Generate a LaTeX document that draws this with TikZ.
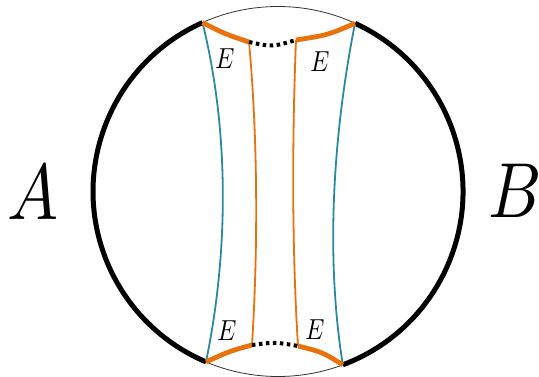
\documentclass[tikz,border=0pt]{standalone}
\usepackage{graphicx}
\begin{document}
\begin{tikzpicture}[x=1pt,y=1pt,
  thinarc/.style={line width=0.8pt, black!80},
  boundary/.style={line width=5pt, black},
  orangethick/.style={line width=4.8pt, orng},
  orangethin/.style={line width=1.8pt, orng},
  bluethin/.style={line width=1.8pt, tealc},
  dotline/.style={line width=4pt, black, dash pattern=on 3.5pt off 3.5pt},
  lab/.style={font=\normalsize, anchor=base, inner sep=0pt},
  biglab/.style={font=\normalsize, anchor=base, inner sep=0pt}]
\definecolor{orng}{RGB}{232,114,12}
\definecolor{tealc}{RGB}{45,136,158}
\useasboundingbox (0,0) rectangle (539,376);
\coordinate (C) at (278,184.5);
\coordinate (TL) at (202.5,353.4);
\coordinate (TR) at (355,352.7);
\coordinate (BL) at (206,14.1);
\coordinate (BR) at (342.8,11.2);
\coordinate (L1) at (249,334);
\coordinate (R1) at (296,336);
\coordinate (L2) at (252,31);
\coordinate (R2) at (298,30);
% thin circle
\draw[thinarc] (C) circle[radius=185];
% blue curves
\draw[bluethin] (TL) .. controls (229,246) and (229,126) .. (BL);
\draw[bluethin] (TR) .. controls (332,236) and (326,116) .. (BR);
% orange verticals
\draw[orangethin] (L1) .. controls (258,236) and (258,126) .. (L2);
\draw[orangethin] (R1) .. controls (292,236) and (292,126) .. (R2);
% black boundary arcs
\draw[boundary] (TL) arc[start angle=114.1, end angle=247.1, radius=185];
\draw[boundary] (BR) arc[start angle=-69.5, end angle=65.4, radius=185];
% top orange and dotted
\draw[orangethick] (TL) .. controls (225,342) .. (L1);
\draw[dotline] (L1) .. controls (272,329) .. (R1);
\draw[orangethick] (R1) .. controls (328,341) .. (TR);
% bottom orange and dotted
\draw[orangethick] (BL) .. controls (230,25) .. (L2);
\draw[dotline] (L2) .. controls (275,34) .. (R2);
\draw[orangethick] (R2) .. controls (322,24) .. (BR);
% labels
\node[lab] (e1) at (225,308) {\scalebox{2.4}[2.9]{$E$}};
\node[lab] (e2) at (320,304) {\scalebox{2.4}[2.9]{$E$}};
\node[lab] (e3) at (227,36) {\scalebox{2.4}[2.9]{$E$}};
\node[lab] (e4) at (315,37) {\scalebox{2.4}[2.9]{$E$}};
\node[biglab] (a) at (33,156) {\scalebox{6.8}[7.9]{$A$}};
\node[biglab] (b) at (515,158) {\scalebox{6.6}[7.8]{$B$}};
\end{tikzpicture}
\end{document}
